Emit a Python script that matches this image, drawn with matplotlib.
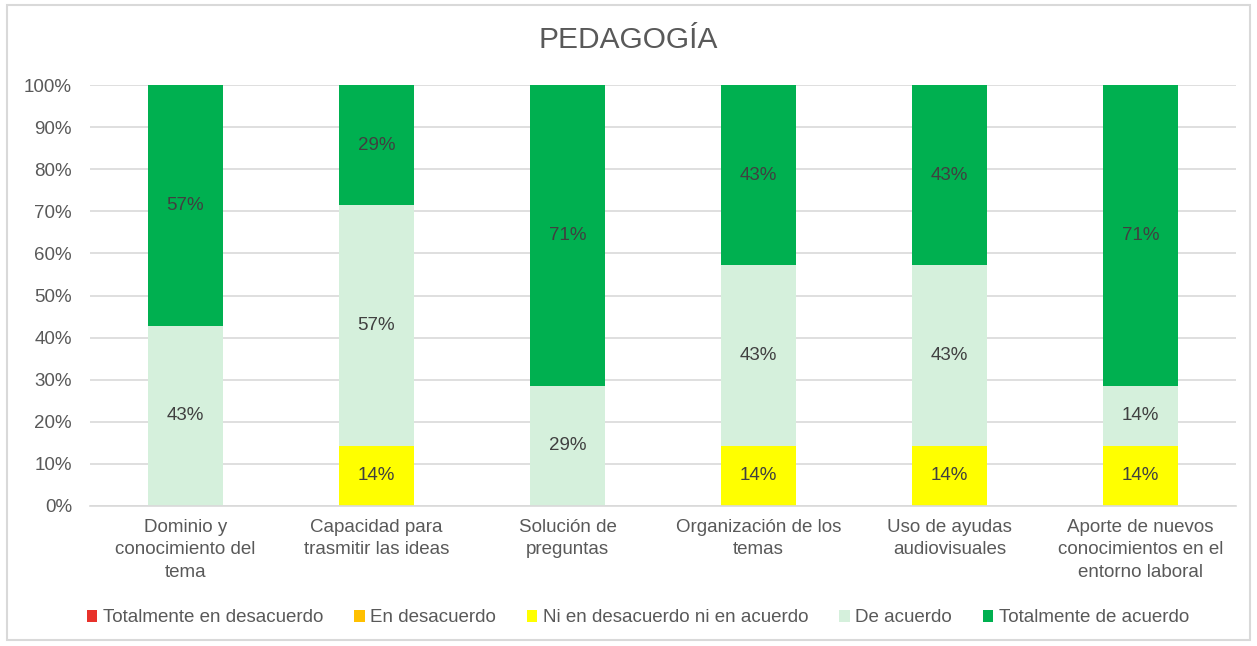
import matplotlib.pyplot as plt
import numpy as np
from matplotlib.patches import Rectangle

plt.rcParams['font.family'] = ['Liberation Sans', 'DejaVu Sans']

categorias = ['Dominio y\nconocimiento del\ntema',
              'Capacidad para\ntrasmitir las ideas',
              'Solución de\npreguntas',
              'Organización de los\ntemas',
              'Uso de ayudas\naudiovisuales',
              'Aporte de nuevos\nconocimientos en el\nentorno laboral']

series = ['Totalmente en desacuerdo', 'En desacuerdo',
          'Ni en desacuerdo ni en acuerdo', 'De acuerdo',
          'Totalmente de acuerdo']

totalmente_desacuerdo = [0, 0, 0, 0, 0, 0]
en_desacuerdo = [0, 0, 0, 0, 0, 0]
ni_ni = [0, 1/7, 0, 1/7, 1/7, 1/7]
de_acuerdo = [3/7, 4/7, 2/7, 3/7, 3/7, 1/7]
totalmente_acuerdo = [4/7, 2/7, 5/7, 3/7, 3/7, 5/7]

colores = ['#E8322B', '#FFC000', '#FFFF00', '#D5F0DC', '#00B050']
gris = '#595959'

fig = plt.figure(figsize=(12.57, 6.46), dpi=100)
ax = fig.add_axes([90/1257, 1 - 506/646, (1236 - 90)/1257, (506 - 85)/646])

x = np.arange(len(categorias))
bottom = np.zeros(len(categorias))
datos = [totalmente_desacuerdo, en_desacuerdo, ni_ni, de_acuerdo, totalmente_acuerdo]
for vals, nombre, c in zip(datos, series, colores):
    vals = np.array(vals)
    ax.bar(x, vals, 0.395, bottom=bottom, color=c, label=nombre, zorder=2)
    for xi, v, b in zip(x, vals, bottom):
        if v > 0:
            ax.text(xi, b + v / 2, f'{v*100:.0f}%', ha='center', va='center',
                    fontsize=13.5, color='#404040', zorder=3)
    bottom += vals

ax.set_xlim(-0.5, 5.5)
ax.set_ylim(0, 1)
ax.set_yticks(np.arange(0, 1.01, 0.1))
ax.set_yticklabels([f'{int(round(t*100))}%' for t in np.arange(0, 1.01, 0.1)])
ax.set_xticks(x)
ax.set_xticklabels(categorias, fontsize=13.5, color=gris, linespacing=1.45)
ax.tick_params(axis='y', labelsize=13.5, labelcolor=gris, length=0, pad=13)
ax.tick_params(axis='x', length=0, pad=9)
ax.yaxis.grid(True, color='#D9D9D9', linewidth=1.2, zorder=0)
ax.set_axisbelow(True)
for s in ['top', 'right', 'left']:
    ax.spines[s].set_visible(False)
ax.spines['bottom'].set_color('#D9D9D9')
ax.spines['bottom'].set_linewidth(1.2)

fig.text(0.5, 1 - 40/646, 'PEDAGOGÍA', ha='center', va='center', fontsize=21.5, color=gris)

leg = fig.legend(loc='center', bbox_to_anchor=(0.5076, 1 - 618/646), ncol=5, frameon=False,
                 fontsize=13.5, handlelength=0.55, handleheight=0.55, handletextpad=0.3,
                 columnspacing=1.65, labelcolor=gris)

fig.patches.append(Rectangle((7/1257, 1 - 640/646), (1250 - 7)/1257, (640 - 5)/646,
                             transform=fig.transFigure, fill=False,
                             edgecolor='#D9D9D9', linewidth=1.5))

fig.savefig('out.png', dpi=100)
